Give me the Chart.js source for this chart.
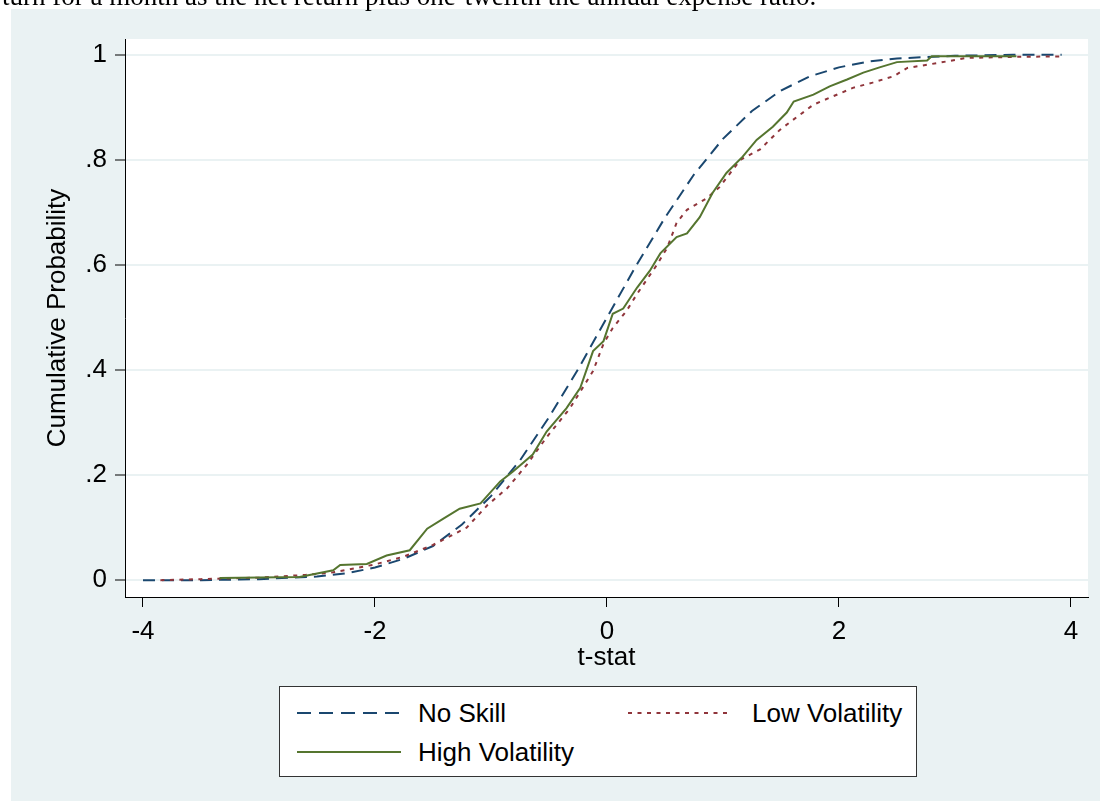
<!DOCTYPE html>
<html>
<head>
<meta charset="utf-8">
<script src="https://cdn.jsdelivr.net/npm/chart.js@4/dist/chart.umd.min.js"></script>
<style>
  body{margin:0;background:#fff;width:1100px;height:809px;overflow:hidden;position:relative;font-family:"Liberation Sans",Arial,sans-serif;}
  #cap{position:absolute;left:2px;top:-17px;font:27px/27px "Liberation Serif","Times New Roman",serif;white-space:nowrap;color:#000;z-index:2;}
  #chart{position:absolute;left:0;top:0;}
  #legend{position:absolute;left:279px;top:686px;width:636px;height:89px;border:1px solid #333;background:#fff;z-index:2;}
  #legend svg{position:absolute;}
  #legend span{position:absolute;font-size:26px;line-height:30px;color:#000;white-space:nowrap;}
</style>
</head>
<body>
<div id="cap">turn for a month as the net return plus one-twelfth the annual expense ratio.</div>
<canvas id="chart" width="1100" height="809"></canvas>
<div id="legend"></div>
<script>
const FONT = '"Liberation Sans", Arial, sans-serif';

const xTicks = [-4, -2, 0, 2, 4];
const yTicks = [0, 0.2, 0.4, 0.6, 0.8, 1];
const yTickLabels = ['0', '.2', '.4', '.6', '.8', '1'];

const seriesNames = ['No Skill', 'Low Volatility', 'High Volatility'];
const seriesColors = ['#1A476F', '#90353B', '#55752F'];

// t-stat / cumulative probability
const noSkillT = [-4.00,-3.50,-3.00,-2.50,-2.25,-2.00,-1.75,-1.50,-1.25,-1.00,-0.75,-0.50,-0.25,0.00,0.25,0.50,0.75,1.00,1.25,1.50,1.75,2.00,2.25,2.50,3.00,3.50,3.92];
const noSkillP = [0.000,0.000,0.002,0.007,0.013,0.024,0.041,0.065,0.106,0.160,0.228,0.310,0.401,0.500,0.598,0.690,0.772,0.840,0.893,0.932,0.959,0.976,0.987,0.993,0.998,1.000,1.000];

const lowVolT = [-3.85,-3.50,-3.00,-2.60,-2.36,-2.00,-1.75,-1.50,-1.21,-1.03,-0.86,-0.69,-0.52,-0.32,-0.21,-0.12,-0.03,0.05,0.17,0.26,0.43,0.52,0.60,0.69,0.86,0.97,1.15,1.32,1.49,1.61,1.78,1.95,2.12,2.29,2.47,2.59,2.87,3.10,3.53,3.93];
const lowVolP = [0.000,0.002,0.005,0.010,0.015,0.030,0.045,0.067,0.100,0.143,0.175,0.220,0.272,0.327,0.366,0.398,0.450,0.480,0.513,0.545,0.600,0.633,0.680,0.705,0.727,0.748,0.800,0.820,0.857,0.877,0.905,0.921,0.937,0.947,0.959,0.975,0.985,0.994,0.996,0.997];

const highVolT = [-3.34,-2.65,-2.36,-2.30,-2.07,-1.90,-1.70,-1.55,-1.41,-1.27,-1.09,-0.92,-0.81,-0.64,-0.52,-0.35,-0.23,-0.12,-0.03,0.05,0.14,0.26,0.37,0.46,0.60,0.69,0.80,0.91,1.03,1.17,1.29,1.43,1.55,1.61,1.78,1.92,2.07,2.21,2.35,2.50,2.76,2.80,3.53];
const highVolP = [0.004,0.006,0.019,0.029,0.031,0.047,0.057,0.098,0.117,0.136,0.146,0.188,0.207,0.239,0.283,0.327,0.366,0.436,0.455,0.507,0.517,0.557,0.589,0.622,0.653,0.660,0.691,0.737,0.775,0.806,0.838,0.863,0.890,0.911,0.924,0.940,0.953,0.966,0.976,0.986,0.989,0.997,0.997];

const dashes = [[12,7],[4,5.5],[]];
const toXY = (ts, ps) => ts.map((t, i) => ({x: t, y: ps[i]}));
const seriesData = [toXY(noSkillT, noSkillP), toXY(lowVolT, lowVolP), toXY(highVolT, highVolP)];

const bgPlugin = {
  id: 'bg',
  beforeDraw(chart) {
    const {ctx, chartArea: a} = chart;
    ctx.save();
    ctx.fillStyle = '#fff';
    ctx.fillRect(0, 0, chart.width, chart.height);
    ctx.fillStyle = '#EAF2F3';
    ctx.fillRect(11, 9, 1089, 792);
    ctx.fillStyle = '#fff';
    ctx.fillRect(a.left, a.top, a.right - a.left, a.bottom - a.top);
    ctx.restore();
  }
};

new Chart(document.getElementById('chart').getContext('2d'), {
  type: 'line',
  data: {
    datasets: seriesNames.map((name, i) => ({
      label: name,
      data: seriesData[i],
      borderColor: seriesColors[i],
      borderDash: dashes[i],
      borderWidth: 2,
      pointRadius: 0,
      fill: false,
      tension: 0,
      order: 3 - i
    }))
  },
  options: {
    responsive: false,
    devicePixelRatio: 1,
    animation: false,
    layout: {padding: {left: 0, top: 39, right: 12, bottom: 134}},
    plugins: {legend: {display: false}, tooltip: {enabled: false}},
    scales: {
      x: {
        type: 'linear', min: -4.155, max: 4.147,
        afterBuildTicks: s => { s.ticks = xTicks.map(v => ({value: v})); },
        afterFit: s => { s.height = 78; },
        grid: {drawOnChartArea: false, drawTicks: true, tickLength: 10, tickColor: '#000', tickWidth: 1},
        border: {display: true, color: '#000', width: 1},
        ticks: {padding: 9, color: '#000', font: {size: 26, family: FONT}, maxRotation: 0, autoSkip: false, callback: v => String(v)},
        title: {display: true, text: 't-stat', color: '#000', font: {size: 26, family: FONT}, padding: {top: 0, bottom: 2}}
      },
      y: {
        type: 'linear', min: -0.032, max: 1.03,
        afterBuildTicks: s => { s.ticks = yTicks.map(v => ({value: v})); },
        afterFit: s => { s.width = 125; },
        grid: {color: '#EAF2F3', lineWidth: 2, drawTicks: true, tickLength: 10, tickColor: '#000', tickWidth: 1},
        border: {display: true, color: '#000', width: 1},
        ticks: {padding: 8, color: '#000', font: {size: 26, family: FONT}, autoSkip: false,
          callback: (v, i) => yTickLabels[i]},
        title: {display: true, text: 'Cumulative Probability', color: '#000', font: {size: 26, family: FONT}, padding: {top: 42, bottom: 0}}
      }
    }
  },
  plugins: [bgPlugin]
});

// legend box, two columns like the original
const legendPos = [
  {lx: 17, tx: 138, cy: 26},
  {lx: 348, tx: 472, cy: 26},
  {lx: 17, tx: 138, cy: 65}
];
const legend = document.getElementById('legend');
seriesNames.forEach((name, i) => {
  const p = legendPos[i];
  const svg = document.createElementNS('http://www.w3.org/2000/svg', 'svg');
  svg.setAttribute('width', 104);
  svg.setAttribute('height', 6);
  svg.style.left = p.lx + 'px';
  svg.style.top = (p.cy - 3) + 'px';
  const ln = document.createElementNS('http://www.w3.org/2000/svg', 'line');
  ln.setAttribute('x1', 0); ln.setAttribute('y1', 3);
  ln.setAttribute('x2', 104); ln.setAttribute('y2', 3);
  ln.setAttribute('stroke', seriesColors[i]);
  ln.setAttribute('stroke-width', 2);
  if (dashes[i].length) ln.setAttribute('stroke-dasharray', i === 0 ? '14 8' : '4 5.5');
  svg.appendChild(ln);
  legend.appendChild(svg);
  const sp = document.createElement('span');
  sp.textContent = name;
  sp.style.left = p.tx + 'px';
  sp.style.top = (p.cy - 15) + 'px';
  legend.appendChild(sp);
});
</script>
</body>
</html>
